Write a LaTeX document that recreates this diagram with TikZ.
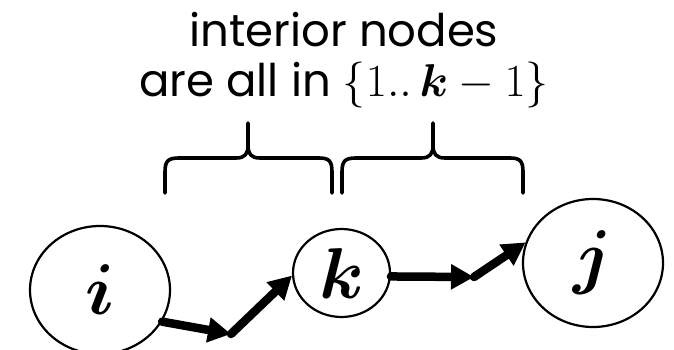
\RequirePackage{fix-cm}
\documentclass[tikz,border=0pt]{standalone}
\usepackage{amsmath}
\usepackage{fontspec}
\usepackage{bm}
\setmainfont{Poppins}
\usetikzlibrary{arrows.meta,shapes.geometric}
\begin{document}
\begin{tikzpicture}[x=1pt,y=-1pt,
  vertex/.style={draw,ellipse,line width=2.2pt,inner sep=0pt,font=\fontsize{72}{76}\selectfont},
  edge/.style={line width=8.5pt,line cap=round,-{Triangle[length=23pt,width=24pt]}},
  bracepath/.style={line width=3.6pt,line cap=round,line join=round},
  label/.style={font=\fontsize{45}{50}\selectfont,inner sep=0pt,align=center,anchor=base}]
\useasboundingbox (0,0) rectangle (674,350);
\clip (0,0) rectangle (674,350);
\node[label] (t) at (344,97) {interior nodes\\are all in {\fontsize{46}{50}\selectfont$\{1..\,\bm{k}-1\}$}};
% braces
\draw[bracepath] (165,193) -- (165,172) .. controls (165,161) and (168,158) .. (179,158)
  -- (236,158) .. controls (245,158) and (248,154) .. (248,145) -- (248,123)
  (248,145) .. controls (248,154) and (251,158) .. (260,158) -- (319,158)
  .. controls (329,158) and (332,161) .. (332,172) -- (332,193);
\draw[bracepath] (342,193) -- (342,172) .. controls (342,161) and (345,158) .. (356,158)
  -- (421,158) .. controls (430,158) and (433,154) .. (433,145) -- (433,123)
  (433,145) .. controls (433,154) and (436,158) .. (445,158) -- (510,158)
  .. controls (520,158) and (523,161) .. (523,172) -- (523,193);
% vertices
\node[vertex,minimum width=140pt,minimum height=128pt] (i) at (100,290) {$\bm{i}$};
\node[vertex,minimum width=97pt,minimum height=88pt] (k) at (341.5,273) {$\bm{k}$};
\node[vertex,minimum width=140pt,minimum height=128pt] (j) at (593,263) {$\bm{j}$};
\coordinate (m1) at (231,334);
\coordinate (m2) at (474,277);
\draw[edge] (i.-27) -- (m1);
\draw[edge] (m1) -- (k.183);
\draw[edge] (k.-4) -- (m2);
\draw[edge] (m2) -- (j.163);
\end{tikzpicture}
\end{document}
